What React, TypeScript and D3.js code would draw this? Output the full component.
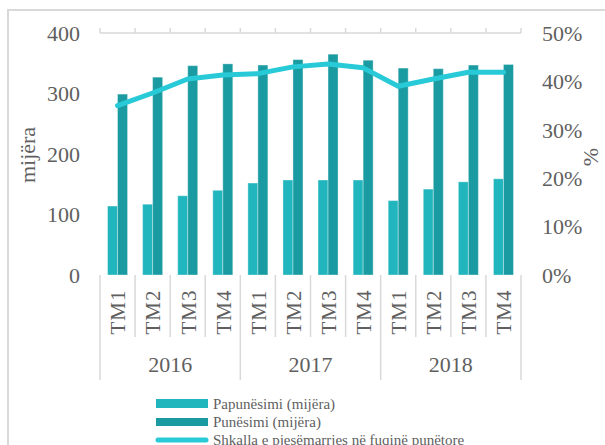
import React from "react";
import * as d3 from "d3";

const quarters = ["TM1", "TM2", "TM3", "TM4", "TM1", "TM2", "TM3", "TM4", "TM1", "TM2", "TM3", "TM4"];
const years = ["2016", "2017", "2018"];
const papunesimi = [114, 117, 131, 140, 152, 157, 157, 157, 123, 142, 154, 159];
const punesimi = [299, 327, 346, 349, 347, 356, 365, 355, 342, 341, 347, 348];
const shkalla = [35.0, 37.6, 40.5, 41.3, 41.6, 43.0, 43.6, 42.8, 39.0, 40.5, 41.9, 41.9];
const leftTicks = [0, 100, 200, 300, 400];
const rightTicks = [0, 10, 20, 30, 40, 50];
const seriesNames = ["Papunësimi (mijëra)", "Punësimi (mijëra)", "Shkalla e pjesëmarrjes në fuqinë punëtore"];

const C_LIGHT = "#21B5BE";
const C_DARK = "#1A9BA1";
const C_LINE = "#28CAD7";
const TXT = "#5f5f5f";
const AX = "#D9D9D9";
const FONT = "'Liberation Serif', 'DejaVu Serif', serif";

export default function App() {
  const W = 605, H = 445;
  const x0 = 100, x1 = 521, yTop = 33, yBot = 275;
  const idx = quarters.map((_, i) => i);
  const x = d3.scaleBand<number>().domain(idx).range([x0, x1]).paddingInner(0).paddingOuter(0);
  const bw = x.bandwidth();
  const barW = 10;
  const yL = d3.scaleLinear().domain([0, 400]).range([yBot, yTop]);
  const yR = d3.scaleLinear().domain([0, 50]).range([yBot, yTop]);
  const line = d3.line<number>().x((_, i) => (x(i) as number) + bw / 2).y((d) => yR(d));

  const boundaries = d3.range(quarters.length + 1).map((i) => x0 + i * bw);

  return (
    <svg width={W} height={H} style={{ position: "absolute", left: 0, top: 0 }} fontFamily={FONT}>
      <rect x={8} y={10} width={W} height={H} fill="#fff" stroke={AX} strokeWidth={2} />
      {/* top secondary axis */}
      <line x1={x0} x2={x1} y1={yTop} y2={yTop} stroke={AX} strokeWidth={1.5} />
      {boundaries.map((b, i) => (
        <line key={"tt" + i} x1={b} x2={b} y1={yTop} y2={yTop - 5} stroke={AX} strokeWidth={1.5} />
      ))}
      {/* bars */}
      {papunesimi.map((v, i) => {
        const cx = (x(i) as number) + bw / 2;
        return (
          <rect key={"p" + i} x={cx - barW} y={yL(v)} width={barW} height={yBot - yL(v)} fill={C_LIGHT} stroke="#ffffff" strokeOpacity={0.35} strokeWidth={1} />
        );
      })}
      {punesimi.map((v, i) => {
        const cx = (x(i) as number) + bw / 2;
        return (
          <rect key={"n" + i} x={cx} y={yL(v)} width={barW} height={yBot - yL(v)} fill={C_DARK} stroke="#ffffff" strokeOpacity={0.35} strokeWidth={1} />
        );
      })}
      {/* line */}
      <path d={line(shkalla) || ""} fill="none" stroke={C_LINE} strokeWidth={5} strokeLinejoin="round" strokeLinecap="round" />
      {/* left ticks */}
      {leftTicks.map((t) => (
        <text key={"l" + t} x={80} y={yL(t)} dy="0.35em" textAnchor="end" fontSize={22} fill={TXT}>{t}</text>
      ))}
      {rightTicks.map((t) => (
        <text key={"r" + t} x={542} y={yR(t)} dy="0.35em" textAnchor="start" fontSize={22} fill={TXT}>{t + "%"}</text>
      ))}
      <text transform={`translate(27,155) rotate(-90)`} dy="0.35em" textAnchor="middle" fontSize={22} fill={TXT}>mijëra</text>
      <text transform={`translate(590,157) rotate(-90)`} dy="0.35em" textAnchor="middle" fontSize={22} fill={TXT}>%</text>
      {/* category axis */}
      {boundaries.map((b, i) => (
        <line key={"cb" + i} x1={b} x2={b} y1={yBot} y2={i % 4 === 0 ? 380 : 337} stroke={AX} strokeWidth={1.5} />
      ))}
      {quarters.map((q, i) => (
        <text key={"q" + i} transform={`translate(${(x(i) as number) + bw / 2 + 0.5},312) rotate(-90)`} dy="0.35em" textAnchor="middle" fontSize={21} fill={TXT} letterSpacing={1}>{q}</text>
      ))}
      {years.map((yv, j) => (
        <text key={"y" + j} x={x0 + (j * 4 + 2) * bw} y={372} textAnchor="middle" fontSize={22} fill={TXT}>{yv}</text>
      ))}
      {/* legend */}
      <rect x={156} y={399} width={52} height={9} fill={C_LIGHT} />
      <text x={213} y={403.5} dy="0.35em" fontSize={15} fill={TXT}>{seriesNames[0]}</text>
      <rect x={156} y={418} width={52} height={8} fill={C_DARK} />
      <text x={213} y={422} dy="0.35em" fontSize={15} fill={TXT}>{seriesNames[1]}</text>
      <line x1={158} x2={206} y1={440} y2={440} stroke={C_LINE} strokeWidth={5} strokeLinecap="round" />
      <text x={213} y={440} dy="0.35em" fontSize={15} fill={TXT}>{seriesNames[2]}</text>
    </svg>
  );
}
